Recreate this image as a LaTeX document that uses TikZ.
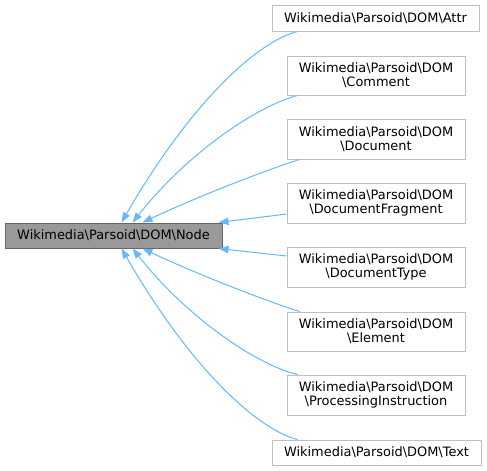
\documentclass[tikz,border=0pt]{standalone}
\usepackage{fontspec}
\setmainfont{DejaVu Sans}
\usetikzlibrary{arrows.meta,calc}
\definecolor{edgeblue}{HTML}{63B8FF}
\definecolor{nodegray}{HTML}{999999}
\definecolor{nodeborder}{HTML}{666666}
\definecolor{boxborder}{HTML}{BFBFBF}
\newcommand{\lblfont}{\fontsize{9.7pt}{10.7pt}\selectfont}
\newcommand{\bs}{\textbackslash}
\begin{document}
\begin{tikzpicture}[x=0.75pt,y=-0.75pt,
  cls/.style={draw=boxborder, fill=white, line width=0.75pt, inner sep=0pt, align=center, font=\lblfont, text=black},
  base/.style={cls, draw=nodeborder, fill=nodegray},
  twoline/.style={cls, minimum width=133.5pt, minimum height=30pt},
  inh/.style={draw=edgeblue, line width=0.75pt, -{Triangle[length=7.5pt,width=5.5pt]}}]
\useasboundingbox (0,0) rectangle (487,471);
\node[base, minimum width=162.75pt, minimum height=18.75pt] (n) at (113.5,235.5) {Wikimedia\bs Parsoid\bs DOM\bs Node};
\node[cls, minimum width=155.25pt, minimum height=19.5pt] (attr) at (375.5,18) {Wikimedia\bs Parsoid\bs DOM\bs Attr};
\node[twoline, minimum height=29.25pt] (comment) at (376,75.5) {Wikimedia\bs Parsoid\bs DOM\\\bs Comment};
\node[twoline] (document) at (376,139) {Wikimedia\bs Parsoid\bs DOM\\\bs Document};
\node[twoline] (fragment) at (376,203) {Wikimedia\bs Parsoid\bs DOM\\\bs DocumentFragment};
\node[twoline] (doctype) at (376,267) {Wikimedia\bs Parsoid\bs DOM\\\bs DocumentType};
\node[twoline, minimum height=29.25pt] (element) at (376,331.5) {Wikimedia\bs Parsoid\bs DOM\\\bs Element};
\node[twoline] (procinst) at (376,395) {Wikimedia\bs Parsoid\bs DOM\\\bs ProcessingInstruction};
\node[cls, minimum width=156.75pt, minimum height=18.75pt] (text) at (376.5,452.5) {Wikimedia\bs Parsoid\bs DOM\bs Text};

\draw[inh] ($(attr.south west)+(26,0)$) .. controls (262,40) and (195,95) .. ($(n.north west)+(117,0)$);
\draw[inh] ($(comment.south west)+(11,0)$) .. controls (260,105) and (190,150) .. ($(n.north west)+(128,0)$);
\draw[inh] ($(document.south west)+(13,0)$) .. controls (260,172) and (190,200) .. ($(n.north west)+(138,0)$);
\draw[inh] ($(fragment.west)+(0,11)$) -- ($(n.north east)+(-4,0)$);
\draw[inh] ($(doctype.west)+(0,-11)$) -- ($(n.south east)+(-4,0)$);
\draw[inh] ($(element.north west)+(13,0)$) .. controls (260,299) and (190,271) .. ($(n.south west)+(138,0)$);
\draw[inh] ($(procinst.north west)+(11,0)$) .. controls (260,366) and (190,321) .. ($(n.south west)+(128,0)$);
\draw[inh] ($(text.north west)+(26,0)$) .. controls (262,431) and (195,376) .. ($(n.south west)+(117,0)$);
\end{tikzpicture}
\end{document}
